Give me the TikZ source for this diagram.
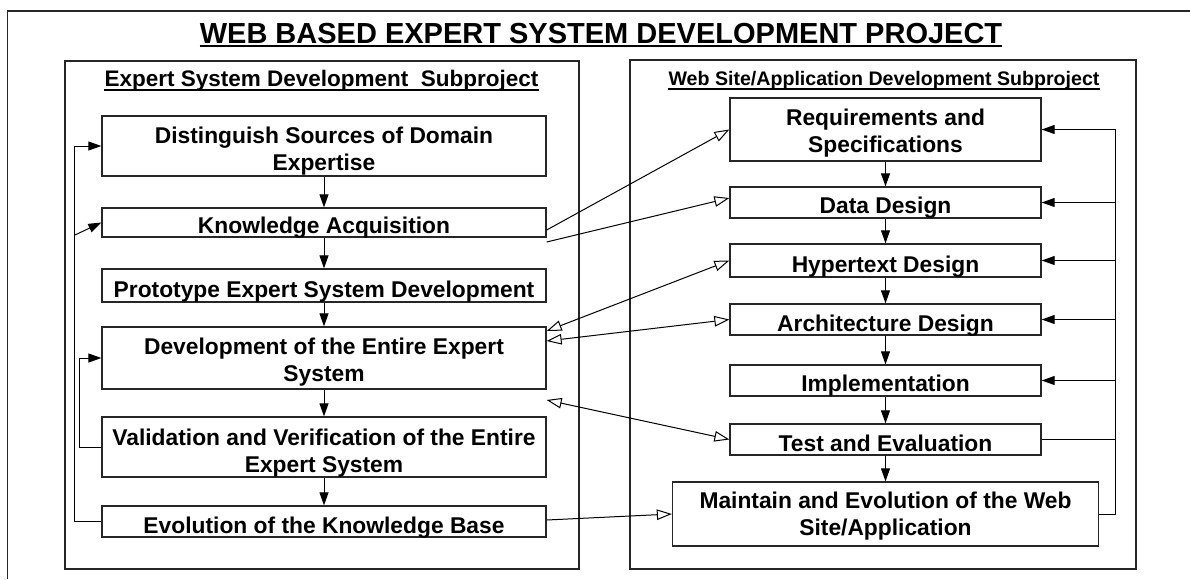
\documentclass[tikz,border=0pt]{standalone}
\usepackage{fontspec}
\setmainfont{Liberation Sans}
\usetikzlibrary{arrows.meta,calc}
\begin{document}
\begin{tikzpicture}[x=1pt,y=-1pt,
  frame/.style={draw=black!85,line width=1.3pt},
  box/.style={draw=black!85,line width=1.3pt,rectangle,inner sep=0pt},
  lbl/.style={font=\fontsize{22.8}{27}\selectfont\bfseries,inner sep=0pt,anchor=base},
  flow/.style={line width=1pt,-{Triangle[length=13pt,width=9pt]}},
  link/.style={line width=1pt},
  openarr/.style={line width=1pt,-{Triangle[open,length=15pt,width=10.5pt]}},
  botharr/.style={line width=1pt,{Triangle[open,length=15pt,width=10.5pt]}-{Triangle[open,length=15pt,width=10.5pt]}},
]
\useasboundingbox (0,0) rectangle (1190,579);
\fill[white] (0,0) rectangle (1190,579);
% outer frame
\draw[frame] (1190,11) -- (7.7,11) -- (7.7,579);
% title
\node[font=\fontsize{29}{34}\selectfont\bfseries,inner sep=0pt,anchor=base] (title) at (601,43) {WEB BASED EXPERT SYSTEM DEVELOPMENT PROJECT};
\draw[line width=2pt] ([yshift=-3pt]title.base west) -- ([yshift=-3pt]title.base east);
% subproject frames
\node[box,minimum width=514pt,minimum height=508pt] (lsub) at (322,315) {};
\node[box,minimum width=506pt,minimum height=509pt] (rsub) at (883,314.5) {};
\node[font=\fontsize{22.5}{26}\selectfont\bfseries,inner sep=0pt,anchor=base] (ltitle) at (321.5,86) {Expert System Development~~Subproject};
\draw[line width=1.3pt] ([yshift=-4pt]ltitle.base west) -- ([yshift=-4pt]ltitle.base east);
\node[font=\fontsize{19.6}{24}\selectfont\bfseries,inner sep=0pt,anchor=base] (rtitle) at (884,85) {Web Site/Application Development Subproject};
\draw[line width=1.3pt] ([yshift=-4pt]rtitle.base west) -- ([yshift=-4pt]rtitle.base east);

% left boxes
\node[box,minimum width=444pt,minimum height=60pt] (ds) at (324,146) {};
\node[box,minimum width=444pt,minimum height=29pt] (ka) at (324,222.5) {};
\node[box,minimum width=444pt,minimum height=33pt] (pr) at (324,285.5) {};
\node[box,minimum width=444pt,minimum height=62pt] (de) at (324,358) {};
\node[box,minimum width=444pt,minimum height=60pt] (va) at (324,447) {};
\node[box,minimum width=444pt,minimum height=31pt] (ev) at (324,521.5) {};
\node[lbl] (dst1) at (324,143) {Distinguish Sources of Domain};
\node[lbl] (dst2) at (324,170) {Expertise};
\node[lbl] (kat) at (324,233) {Knowledge Acquisition};
\node[lbl] (prt) at (324,297) {Prototype Expert System Development};
\node[lbl] (det1) at (324,354) {Development of the Entire Expert};
\node[lbl] (det2) at (324,381) {System};
\node[lbl] (vat1) at (324,445) {Validation and Verification of the Entire};
\node[lbl] (vat2) at (324,472) {Expert System};
\node[lbl] (evt) at (324,533) {Evolution of the Knowledge Base};

% right boxes
\node[box,minimum width=311pt,minimum height=63pt] (r1) at (885.5,129.5) {};
\node[box,minimum width=311pt,minimum height=31pt] (r2) at (885.5,202.5) {};
\node[box,minimum width=311pt,minimum height=33pt] (r3) at (885.5,260.5) {};
\node[box,minimum width=311pt,minimum height=31pt] (r4) at (885.5,319.5) {};
\node[box,minimum width=311pt,minimum height=31pt] (r5) at (885.5,380.5) {};
\node[box,minimum width=311pt,minimum height=31pt] (r6) at (885.5,439.5) {};
\node[box,minimum width=426pt,minimum height=64pt] (r7) at (885.5,514) {};
\node[lbl] (r1t1) at (885.5,125) {Requirements and};
\node[lbl] (r1t2) at (885.5,152) {Specifications};
\node[lbl] (r2t) at (885.5,213) {Data Design};
\node[lbl] (r3t) at (885.5,272) {Hypertext Design};
\node[lbl] (r4t) at (885.5,331) {Architecture Design};
\node[lbl] (r5t) at (885.5,391) {Implementation};
\node[lbl] (r6t) at (885.5,451) {Test and Evaluation};
\node[lbl] (r7t1) at (885.5,508) {Maintain and Evolution of the Web};
\node[lbl] (r7t2) at (885.5,535) {Site/Application};

% left vertical flow
\draw[flow] (ds) -- (ka);
\draw[flow] (ka) -- (pr);
\draw[flow] (pr) -- (de);
\draw[flow] (de) -- (va);
\draw[flow] (va) -- (ev);
% left loops
\draw[flow] (ev.west) -- ++(-27,0) |- (ds.west);
\coordinate (kb) at (75,235);
\draw[flow] (kb) -- (ka.west);
\draw[flow] (va.west) -- ++(-22,0) |- (de.west);

% right vertical flow
\draw[flow] (r1) -- (r2);
\draw[flow] (r2) -- (r3);
\draw[flow] (r3) -- (r4);
\draw[flow] (r4) -- (r5);
\draw[flow] (r5) -- (r6);
\draw[flow] (r6) -- (r7);
% right loop
\coordinate (rt) at (1115,129.5);
\draw[flow] (r7.east) -| (rt) -- (r1.east);
\draw[flow] (r2.east -| rt) -- (r2.east);
\draw[flow] (r3.east -| rt) -- (r3.east);
\draw[flow] (r4.east -| rt) -- (r4.east);
\draw[flow] (r5.east -| rt) -- (r5.east);
\draw[link] (r6.east) -- (r6.east -| rt);

% cross links
\draw[openarr] ([yshift=-7.5pt]ka.east) -- (r1.west);
\draw[openarr] ([yshift=-19.5pt]ka.east) -- ([yshift=4.5pt]r2.west);
\draw[botharr] ([yshift=27pt]de.east) -- (r3.west);
\draw[botharr] ([yshift=17pt]de.east) -- (r4.west);
\draw[botharr] ([yshift=-42pt]de.east) -- (r6.west);
\draw[openarr] ([yshift=1.5pt]ev.east) -- (r7.west);
\end{tikzpicture}
\end{document}
